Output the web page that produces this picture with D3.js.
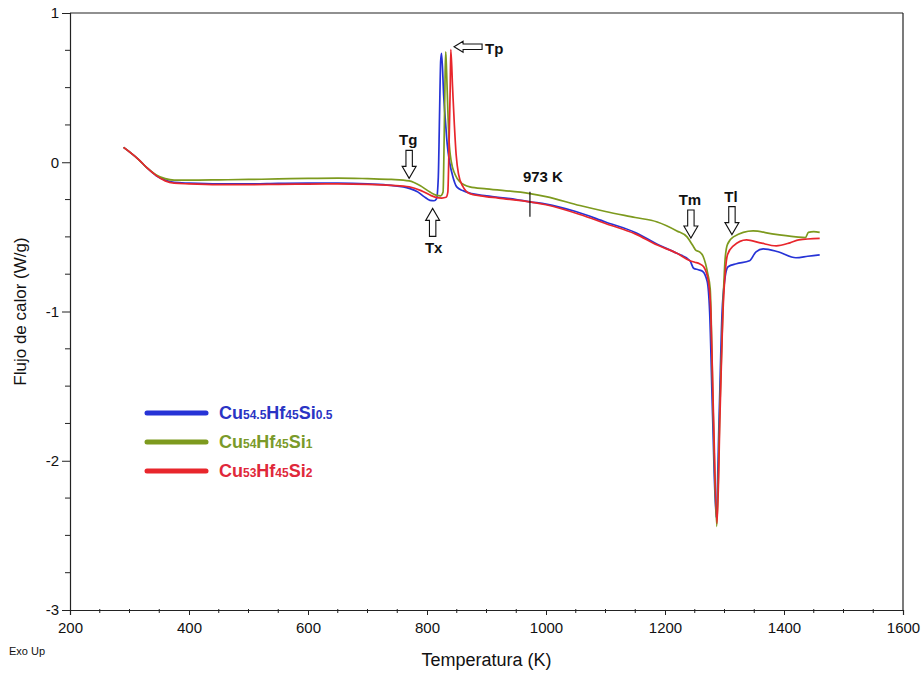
<!DOCTYPE html>
<html>
<head>
<meta charset="utf-8">
<script src="https://cdn.jsdelivr.net/npm/d3@7"></script>
<style>
  html,body{margin:0;padding:0;background:#fff;}
  svg{display:block;font-family:"Liberation Sans",Arial,sans-serif;}
</style>
</head>
<body>
<svg id="chart" width="922" height="673"></svg>
<script>
// ---------- data ----------
const xTicks = [200, 400, 600, 800, 1000, 1200, 1400, 1600];
const yTicks = [1, 0, -1, -2, -3];

const blueSeries = [
  [290,0.10],[300,0.07],[315,0.02],[330,-0.04],[345,-0.09],[360,-0.12],[375,-0.135],[400,-0.14],
  [450,-0.145],[500,-0.145],[550,-0.142],[600,-0.14],[650,-0.14],[700,-0.145],[740,-0.155],
  [770,-0.175],[785,-0.2],[795,-0.23],[805,-0.255],[812,-0.258],[816,-0.245],[819,-0.1],
  [821,0.3],[823,0.68],[824.5,0.73],[828,0.45],[832,0.22],[834,0.12],[838,0.0],[843,-0.09],
  [850,-0.165],[860,-0.19],[875,-0.21],[900,-0.225],[950,-0.25],[973,-0.265],[1000,-0.28],
  [1050,-0.33],[1100,-0.40],[1150,-0.47],[1187,-0.55],[1220,-0.61],[1242,-0.66],[1248,-0.71],
  [1256,-0.72],[1263,-0.73],[1271,-0.8],[1275,-1.0],[1280,-1.7],[1286,-2.38],[1291,-1.7],
  [1296,-1.0],[1300,-0.8],[1306,-0.70],[1320,-0.68],[1342,-0.66],[1353,-0.60],[1365,-0.58],
  [1390,-0.60],[1420,-0.64],[1440,-0.63],[1460,-0.62]
];
const greenSeries = [
  [290,0.10],[300,0.07],[315,0.02],[330,-0.04],[345,-0.085],[360,-0.11],[375,-0.12],[400,-0.12],
  [450,-0.118],[500,-0.115],[550,-0.112],[600,-0.108],[650,-0.106],[700,-0.11],[740,-0.115],
  [770,-0.125],[790,-0.16],[805,-0.2],[815,-0.22],[823,-0.225],[827,-0.2],[829,0.2],
  [830.5,0.6],[831.5,0.74],[833,0.6],[835,0.35],[837,0.15],[841,0.0],[847,-0.08],[855,-0.13],
  [872,-0.165],[900,-0.178],[973,-0.21],[1000,-0.23],[1057,-0.29],[1100,-0.33],[1150,-0.37],
  [1187,-0.40],[1220,-0.46],[1237,-0.50],[1247,-0.56],[1252,-0.59],[1258,-0.60],[1264,-0.63],
  [1272,-0.75],[1276,-0.85],[1281,-1.68],[1287,-2.44],[1292,-1.68],[1298,-0.9],[1301,-0.65],
  [1305,-0.55],[1315,-0.50],[1348,-0.46],[1380,-0.48],[1420,-0.50],[1436,-0.505],[1441,-0.47],
  [1450,-0.465],[1460,-0.47]
];
const redSeries = [
  [290,0.10],[300,0.07],[315,0.02],[330,-0.04],[345,-0.09],[360,-0.125],[375,-0.14],[400,-0.145],
  [450,-0.15],[500,-0.15],[550,-0.148],[600,-0.146],[650,-0.145],[700,-0.148],[740,-0.155],
  [770,-0.165],[790,-0.19],[805,-0.22],[815,-0.235],[825,-0.24],[832,-0.235],[835,-0.2],
  [837,0.1],[839,0.5],[840,0.755],[843,0.5],[846,0.25],[849,0.05],[853,-0.08],[860,-0.16],
  [872,-0.21],[890,-0.225],[920,-0.24],[973,-0.265],[1000,-0.285],[1057,-0.35],[1100,-0.41],
  [1150,-0.48],[1187,-0.555],[1220,-0.61],[1242,-0.66],[1250,-0.67],[1258,-0.68],[1265,-0.70],
  [1273,-0.8],[1277,-1.0],[1281.5,-1.7],[1287.5,-2.42],[1292.5,-1.68],[1298,-0.95],[1301,-0.75],
  [1305,-0.62],[1315,-0.56],[1337,-0.52],[1360,-0.54],[1387,-0.56],[1410,-0.54],[1425,-0.52],
  [1460,-0.51]
];

const seriesNames = ["Cu54.5Hf45Si0.5", "Cu54Hf45Si1", "Cu53Hf45Si2"];
const legendParts = [
  [["Cu",0],["54.5",1],["Hf",0],["45",1],["Si",0],["0.5",1]],
  [["Cu",0],["54",1],["Hf",0],["45",1],["Si",0],["1",1]],
  [["Cu",0],["53",1],["Hf",0],["45",1],["Si",0],["2",1]]
];
const seriesColors = ["#2633d6", "#7d9a1e", "#e8262c"];
const textColors = ["#2a34c4", "#7a9a2a", "#e0283a"];

// annotations: tip position in data space
const arrowNotes = [
  {label:"Tg", T:770, v:-0.108, dir:"down"},
  {label:"Tx", T:809.5, v:-0.309, dir:"up"},
  {label:"Tp", T:845.5, v:0.774, dir:"left"},
  {label:"Tm", T:1243.5, v:-0.508, dir:"down"},
  {label:"Tl", T:1312.5, v:-0.485, dir:"down"}
];
const markerNote = {label:"973 K", T:973, v1:-0.197, v2:-0.365};

// ---------- layout ----------
const svg = d3.select("#chart");
const M = {left:70, right:903, top:13, bottom:610};
const x = d3.scaleLinear().domain([200,1600]).range([M.left,M.right]);
const y = d3.scaleLinear().domain([-3,1]).range([M.bottom,M.top]);
const fmt = d => String(d).replace("\u2212","-");

// frame (top and right)
svg.append("line").attr("x1",M.left).attr("x2",M.right).attr("y1",M.top).attr("y2",M.top)
  .attr("stroke","#222").attr("stroke-width",1.2);
svg.append("line").attr("x1",M.right).attr("x2",M.right).attr("y1",M.top).attr("y2",M.bottom)
  .attr("stroke","#222").attr("stroke-width",1.2);

// x axis
const xMinor = d3.range(200,1601,50).filter(v => v%200!==0);
const gx = svg.append("g").attr("transform",`translate(0,${M.bottom})`);
gx.call(d3.axisBottom(x).tickValues(xTicks).tickSize(5).tickPadding(7).tickFormat(fmt));
gx.selectAll(".tick text").attr("font-size",15).attr("fill","#111")
  .attr("font-family","'Liberation Sans', Arial, sans-serif");
gx.select(".domain").attr("stroke","#222").attr("stroke-width",1.2);
gx.selectAll(".tick line").attr("stroke","#222");
gx.selectAll(".minor").data(xMinor).enter().append("line")
  .attr("x1",d=>x(d)).attr("x2",d=>x(d)).attr("y1",-1).attr("y2",3).attr("stroke","#222");

// y axis
const yMinor = d3.range(-3,1.001,0.25).filter(v => Math.abs(v-Math.round(v))>1e-6);
const gy = svg.append("g").attr("transform",`translate(${M.left},0)`);
gy.call(d3.axisLeft(y).tickValues(yTicks).tickSize(8).tickPadding(3).tickFormat(fmt));
gy.selectAll(".tick text").attr("font-size",15).attr("fill","#111")
  .attr("font-family","'Liberation Sans', Arial, sans-serif");
gy.select(".domain").attr("stroke","#222").attr("stroke-width",1.2);
gy.selectAll(".tick line").attr("stroke","#222");
gy.selectAll(".minor").data(yMinor).enter().append("line")
  .attr("x1",-5).attr("x2",0).attr("y1",d=>y(d)).attr("y2",d=>y(d)).attr("stroke","#222");

// axis titles
svg.append("text").attr("x",(M.left+M.right)/2).attr("y",666).attr("text-anchor","middle")
  .attr("font-size",18).attr("fill","#111").text("Temperatura (K)");
svg.append("text").attr("transform",`translate(26,${y(-1)}) rotate(-90)`).attr("text-anchor","middle")
  .attr("font-size",17).attr("fill","#111").text("Flujo de calor (W/g)");
svg.append("text").attr("x",9).attr("y",655).attr("font-size",11).attr("fill","#111").text("Exo Up");

// curves
const line = d3.line().x(d=>x(d[0])).y(d=>y(d[1])).curve(d3.curveMonotoneX);
const allSeries = [blueSeries, greenSeries, redSeries];
allSeries.forEach((s,i)=>{
  svg.append("path").datum(s).attr("d",line).attr("fill","none")
    .attr("stroke",seriesColors[i]).attr("stroke-width",1.7).attr("stroke-linejoin","round")
    .attr("class","series").attr("data-name",seriesNames[i]);
});

// annotations
function arrowPath(tx,ty,dir){
  const headL=12, headW=7, shaftL=16, shaftW=3.2;
  let pts;
  if(dir==="down"){
    pts=[[0,0],[-headW,-headL],[-shaftW,-headL],[-shaftW,-headL-shaftL],[shaftW,-headL-shaftL],[shaftW,-headL],[headW,-headL]];
  } else if(dir==="up"){
    pts=[[0,0],[-headW,headL],[-shaftW,headL],[-shaftW,headL+shaftL],[shaftW,headL+shaftL],[shaftW,headL],[headW,headL]];
  } else {
    pts=[[0,0],[9,-5.5],[9,-2.8],[28,-2.8],[28,2.8],[9,2.8],[9,5.5]];
  }
  return "M"+pts.map(p=>[tx+p[0],ty+p[1]].join(",")).join("L")+"Z";
}
arrowNotes.forEach(a=>{
  const tx=x(a.T), ty=y(a.v);
  svg.append("path").attr("d",arrowPath(tx,ty,a.dir)).attr("fill","#fff")
    .attr("stroke","#111").attr("stroke-width",1.1);
  const t = svg.append("text").attr("font-size",15).attr("font-weight","bold").attr("fill","#111");
  if(a.dir==="down"){
    t.attr("x",tx-1).attr("y",ty-33).attr("text-anchor","middle");
  } else if(a.dir==="up"){
    t.attr("x",tx+1).attr("y",ty+45).attr("text-anchor","middle");
  } else {
    t.attr("x",tx+31).attr("y",ty+7).attr("text-anchor","start");
  }
  t.text(a.label);
});
svg.append("line").attr("x1",x(markerNote.T)).attr("x2",x(markerNote.T))
  .attr("y1",y(markerNote.v1)).attr("y2",y(markerNote.v2)).attr("stroke","#111").attr("stroke-width",1.2);
svg.append("text").attr("x",x(markerNote.T)-7).attr("y",y(markerNote.v1)-10)
  .attr("font-size",15).attr("font-weight","bold").attr("fill","#111").text(markerNote.label);

// legend
const lg = svg.append("g");
seriesNames.forEach((n,i)=>{
  const yy = 413 + i*29;
  lg.append("line").attr("x1",147).attr("x2",206).attr("y1",yy).attr("y2",yy)
    .attr("stroke",seriesColors[i]).attr("stroke-width",5).attr("stroke-linecap","round");
  const t = lg.append("text").attr("x",219).attr("y",yy+6).attr("fill",textColors[i])
    .attr("font-weight","bold");
  legendParts[i].forEach(p=>{
    t.append("tspan").attr("font-size",p[1]?12:18).text(p[0]);
  });
});
</script>
</body>
</html>
